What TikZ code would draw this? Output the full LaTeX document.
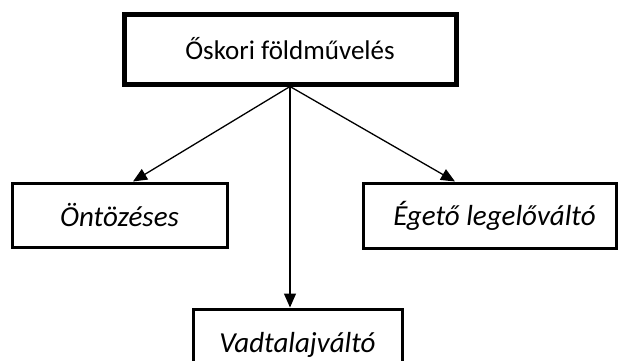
\documentclass[tikz,border=0pt]{standalone}
\usepackage{fontspec}
\setmainfont{Carlito}
\usetikzlibrary{arrows.meta}
\begin{document}
\begin{tikzpicture}[x=1pt,y=1pt,
  box/.style={draw=black, fill=white, rectangle, inner sep=0pt, font=\fontsize{27}{30}\selectfont},
  sub/.style={box, line width=3pt, font=\fontsize{29}{32}\selectfont\itshape},
  arr/.style={line width=1.3pt, -{Triangle[length=14pt,width=12pt]}}]
\clip (0,0) rectangle (622,360);
\fill[white] (0,0) rectangle (622,360);
\node[box, line width=5pt, minimum width=332pt, minimum height=70pt] (top) at (290,311) {Őskori földművelés};
\node[sub, minimum width=215pt, minimum height=64pt] (oent) at (119.5,145) {Öntözéses};
\node[sub, minimum width=253pt, minimum height=65pt] (eget) at (489.5,144.5) {\hspace*{10pt}Égető legelőváltó};
\node[sub, minimum width=209pt, minimum height=72pt] (vadt) at (297.5,15) {Vadtalajváltó};
\draw[arr] (top.south) -- ([xshift=13.5pt]oent.north);
\draw[arr] (top.south) -- ([xshift=-34.5pt]eget.north);
\draw[arr] (top.south) -- (top.south |- vadt.north);
\end{tikzpicture}
\end{document}
